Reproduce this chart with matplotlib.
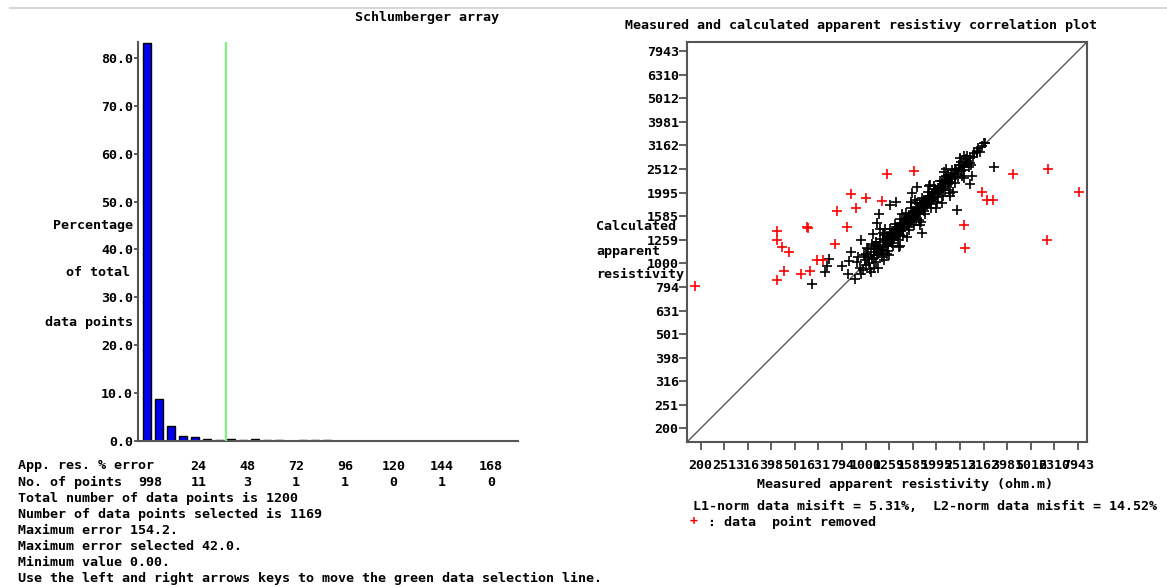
import matplotlib
matplotlib.use("Agg")
import matplotlib.pyplot as plt
from matplotlib.lines import Line2D
import numpy as np

#===============================================================================
W, H = 1167, 587
FONT = "DejaVu Sans Mono"
FS = 9.6

# histogram of app. res. % error (percentage of total data points per bin)
hist_percent = [83.17, 8.67, 3.1, 1.0, 0.83, 0.42, 0.17, 0.42, 0.17, 0.42,
                0.17, 0.17, 0.0, 0.17, 0.17, 0.17]
selection_bin = 6.55
hist_yticks = [0, 10, 20, 30, 40, 50, 60, 70, 80]

error_labels = ["24", "48", "72", "96", "120", "144", "168"]
points_per_bin = ["998", "11", "3", "1", "1", "0", "1", "0"]

total_points = 1200
selected_points = 1169
max_error = 154.2
max_error_selected = 42.0
min_value = 0.00

# correlation plot
res_ticks = [200, 251, 316, 398, 501, 631, 794, 1000, 1259, 1585, 1995,
             2512, 3162, 3981, 5012, 6310, 7943]
res_range = (175, 8670)

# (measured, calculated) in ohm.m
kept_pairs = [
    (592, 821), (673, 923), (683, 972), (701, 1045), (791, 979), (844, 905),
    (852, 1020), (864, 1114), (931, 1065), (953, 1260), (1010, 1163),
    (1075, 1336), (1139, 1623), (1196, 1037), (1120, 1483), (1150, 1399),
    (1228, 1100), (1268, 1772), (1345, 1813), (1398, 1181), (1567, 1987),
    (1645, 2106), (1727, 1345), (2277, 1922), (2432, 1677), (2769, 2175),
    (2813, 2335), (3499, 2559), (3204, 3232), (2972, 2950),
    (950, 960), (975, 940), (990, 1030), (1005, 985), (1020, 1060),
    (1035, 1000), (1050, 1090), (1065, 1040), (1080, 1120), (1090, 1050),
    (1100, 1150), (1115, 1080), (1125, 1170), (1140, 1110), (1150, 1200),
    (1160, 1130), (1175, 1140), (1185, 1230), (1195, 1170), (1210, 1260),
    (1220, 1190), (1230, 1280), (1245, 1210), (1255, 1300), (1265, 1240),
    (1280, 1330), (1290, 1250), (1300, 1350), (1315, 1280), (1325, 1370),
    (1335, 1300), (1350, 1400), (1360, 1320), (1375, 1420), (1385, 1350),
    (1400, 1450), (1410, 1370), (1425, 1480), (1435, 1400), (1450, 1500),
    (1460, 1420), (1475, 1530), (1490, 1450), (1500, 1550), (1515, 1470),
    (1530, 1580), (1540, 1500), (1555, 1610), (1570, 1530), (1585, 1640),
    (1600, 1560), (1615, 1670), (1630, 1590), (1645, 1700), (1660, 1620),
    (1675, 1730), (1690, 1650), (1705, 1760), (1720, 1680), (1740, 1790),
    (1755, 1710), (1770, 1830), (1790, 1740), (1805, 1860), (1820, 1770),
    (1840, 1900), (1855, 1800), (1875, 1930), (1890, 1840), (1910, 1970),
    (1930, 1880), (1950, 2010), (1970, 1920), (1990, 2050), (2010, 1960),
    (2030, 2090), (2050, 2000), (2070, 2130), (2090, 2040), (2110, 2170),
    (2130, 2080), (2150, 2210), (2175, 2120), (2200, 2260), (2225, 2170),
    (2250, 2310), (2275, 2220), (2300, 2360), (2330, 2270), (2360, 2420),
    (2390, 2330), (2420, 2480), (2450, 2390), (2490, 2540), (2530, 2470),
    (2570, 2620), (2610, 2560), (2660, 2700), (2710, 2660), (2780, 2800),
    (2850, 2830), (2950, 2990), (3100, 3150), (3180, 3230),
    (1000, 1100), (1040, 950), (1080, 1190), (1110, 1010), (1150, 1270),
    (1170, 1060), (1200, 1320), (1240, 1130), (1270, 1400), (1300, 1190),
    (1330, 1470), (1370, 1250), (1400, 1540), (1440, 1310), (1480, 1630),
    (1520, 1380), (1560, 1710), (1600, 1450), (1650, 1810), (1690, 1530),
    (1740, 1900), (1790, 1620), (1840, 2000), (1890, 1720), (1950, 2120),
    (2000, 1820), (2060, 2230), (2120, 1930), (2180, 2350), (2250, 2050),
    (2320, 2480), (2400, 2200), (2480, 2620), (2560, 2350), (2650, 2780),
    (2730, 2560),
    (1120, 1185), (1180, 1110), (1230, 1300), (1290, 1215), (1340, 1420),
    (1400, 1320), (1460, 1545), (1520, 1430), (1580, 1670), (1640, 1545),
    (1700, 1800), (1760, 1660), (1830, 1935), (1900, 1790), (1960, 2075),
    (2030, 1915), (2100, 2225), (2170, 2045), (2240, 2370), (2310, 2180),
    (2380, 2510), (2460, 2320), (2540, 2680), (2620, 2480), (2700, 2840),
    (2760, 2650), (2880, 2940), (3000, 3080), (3050, 2950),
    (1180, 1350), (1260, 1080), (1420, 1620), (1500, 1290), (1620, 1850),
    (1720, 1490), (1860, 2120), (1980, 1720), (2150, 2450), (2280, 1980),
    (2500, 2800), (2600, 2300),
    (1020, 1150), (1090, 960), (980, 1080), (1050, 920), (960, 900),
    (1110, 1230),
    (920, 1010), (900, 860), (1060, 1210), (1130, 960), (1210, 1400),
    (1380, 1170), (1560, 1820), (1700, 1450), (1880, 2150), (2100, 1800),
    (2200, 2500), (2350, 2000), (2600, 2850), (2800, 2600),
]

removed_pairs = [
    (189, 805), (421, 1376), (421, 1260), (442, 1178), (473, 1121), (451, 932),
    (421, 854), (564, 1430), (570, 1416), (622, 1037), (660, 1037), (581, 932),
    (532, 905), (741, 1212), (833, 1430), (756, 1672), (910, 1721), (867, 1973),
    (1003, 1898), (1173, 1843), (1231, 2397), (1603, 2469), (3112, 2012),
    (3268, 1861), (3464, 1861), (2611, 1459), (2636, 1166), (4211, 2397),
    (5924, 2517), (8017, 2012), (5867, 1260),
]

l1_misfit = 5.31
l2_misfit = 14.52


#===============================================================================
def fx(px):
    return px / W


def fy(py):
    return 1 - py / H


def put(x, y, s, **kw):
    kw.setdefault("ha", "left")
    kw.setdefault("va", "center")
    fig.text(fx(x), fy(y), s, **kw)


plt.rcParams["font.family"] = FONT
plt.rcParams["font.weight"] = "bold"
plt.rcParams["font.size"] = FS

fig = plt.figure(figsize=(W / 100, H / 100), dpi=100)
fig.patch.set_facecolor("white")

# top window border
fig.add_artist(Line2D([fx(10), 1], [fy(8), fy(8)], color="#d8d8d8", lw=1.5))

#===============================================================================
# histogram panel
ax1 = fig.add_axes([fx(138), fy(441), 380 / W, 399 / H])
ax1.bar(np.arange(len(hist_percent)), hist_percent, width=0.69,
        color="#0000ee", edgecolor="black", linewidth=1.0, zorder=2)
ax1.axvline(selection_bin, color="#80ee80", lw=1.6, zorder=3)
ax1.set_xlim(-0.76, 30.88)
ax1.set_ylim(0, 83.3)
ax1.set_yticks(hist_yticks)
ax1.set_yticklabels([f"{v:.1f}" for v in hist_yticks])
ax1.set_xticks([])
ax1.tick_params(axis="y", direction="out", length=3, width=1.2, pad=0.5,
                color="#444444")
for side in ("top", "right"):
    ax1.spines[side].set_visible(False)
for side in ("left", "bottom"):
    ax1.spines[side].set_color("#555555")
    ax1.spines[side].set_linewidth(1.5)

put(427, 18, "Schlumberger array", ha="center")
put(133, 225, "Percentage", ha="right")
put(130, 273, "of total", ha="right")
put(133, 322, "data points", ha="right")

# table below histogram
col_centers = [150 + 48.7 * k for k in range(len(points_per_bin))]
put(18, 466, "App. res. % error")
for x, s in zip(col_centers[1:], error_labels):
    put(x, 466, s, ha="center")
put(18, 482, "No. of points")
for x, s in zip(col_centers, points_per_bin):
    put(x, 482, s, ha="center")

summary_lines = [
    f"Total number of data points is {total_points}",
    f"Number of data points selected is {selected_points}",
    f"Maximum error {max_error:.1f}.",
    f"Maximum error selected {max_error_selected:.1f}.",
    f"Minimum value {min_value:.2f}.",
    "Use the left and right arrows keys to move the green data selection line.",
]
for i, s in enumerate(summary_lines):
    put(18, 498 + 16 * i, s)

#===============================================================================
# correlation panel
ax2 = fig.add_axes([fx(687), fy(442), 400 / W, 400 / H])
ax2.set_xscale("log")
ax2.set_yscale("log")
ax2.plot(res_range, res_range, color="#555555", lw=1.0, zorder=1)

km = [p[0] for p in kept_pairs]
kc = [p[1] for p in kept_pairs]
rm = [p[0] for p in removed_pairs]
rc = [p[1] for p in removed_pairs]
ax2.plot(km, kc, ls="none", marker="+", ms=6.5, mew=1.2, color="black", zorder=2)
ax2.plot(rm, rc, ls="none", marker="+", ms=6.5, mew=1.2, color="#ff0000", zorder=3)

ax2.set_xlim(*res_range)
ax2.set_ylim(*res_range)
ax2.minorticks_off()
ax2.set_xticks(res_ticks)
ax2.set_xticklabels([str(v) for v in res_ticks])
ax2.set_yticks(res_ticks)
ax2.set_yticklabels([str(v) for v in res_ticks])
ax2.tick_params(axis="y", direction="out", length=5.5, width=1.2, pad=0.5,
                color="#444444")
ax2.tick_params(axis="x", direction="out", length=5.5, width=1.2, pad=7,
                color="#444444")
for s in ax2.spines.values():
    s.set_color("#555555")
    s.set_linewidth(1.5)

put(861, 25, "Measured and calculated apparent resistivy correlation plot", ha="center")
put(596, 227, "Calculated")
put(596, 251, "apparent")
put(596, 274, "resistivity")
put(905, 484, "Measured apparent resistivity (ohm.m)", ha="center")
put(693, 507, f"L1-norm data misift = {l1_misfit:.2f}%,  L2-norm data misfit = {l2_misfit:.2f}%")
put(690, 522, "+", color="#ff0000")
put(700, 522, " : data  point removed")

fig.savefig("out.png", dpi=100, facecolor="white")
